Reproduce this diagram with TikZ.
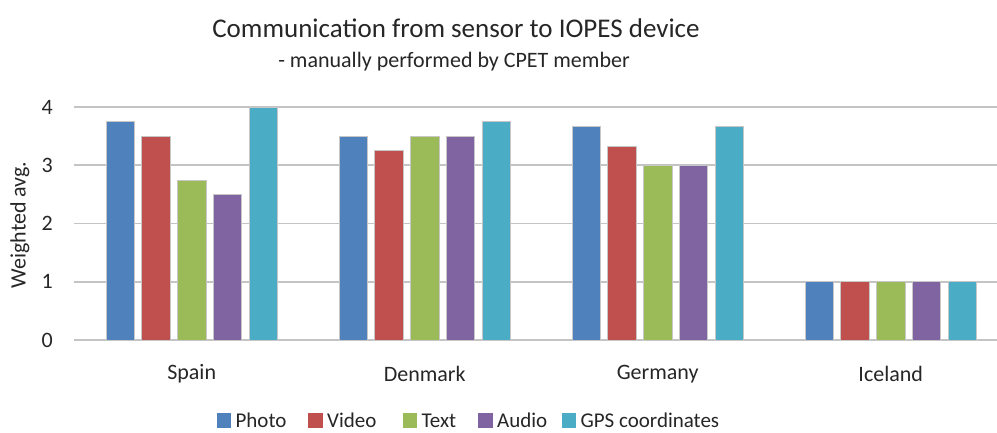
\documentclass[tikz,border=0pt]{standalone}
\usepackage{fontspec}
\setmainfont{Carlito}
\definecolor{cPhoto}{HTML}{4F81BD}
\definecolor{cVideo}{HTML}{C0504D}
\definecolor{cText}{HTML}{9BBB59}
\definecolor{cAudio}{HTML}{8064A2}
\definecolor{cGPS}{HTML}{4BACC6}
\definecolor{gridgray}{HTML}{C4C4C4}
\definecolor{ink}{HTML}{262626}
\newcommand{\fs}[1]{\fontsize{#1}{#1}\selectfont}
\begin{document}
\begin{tikzpicture}[x=1pt,y=-1pt,
  gridline/.style={draw=gridgray, line width=1.8pt},
  barbox/.style={draw=black!22, line width=0.6pt},
  ticklbl/.style={font=\fs{22}, text=ink, anchor=east, inner sep=0pt},
  catlbl/.style={font=\fs{22}, text=ink, inner sep=0pt},
  legsq/.style={minimum size=14.5pt, inner sep=0pt, draw=none},
  legtxt/.style={font=\fs{21}, text=ink, anchor=west, inner sep=0pt}]
\useasboundingbox (0,0) rectangle (997,432);

% titles
\node[font=\fs{27}, text=ink] (title) at (456,28) {Communication from sensor to IOPES device};
\node[font=\fs{22}, text=ink] (subtitle) at (454,62) {- manually performed by CPET member};

% value axis: gridlines and tick labels
\foreach \v in {0,...,4} {
  \draw[gridline] (74,340-58.25*\v) -- (997,340-58.25*\v);
  \node[ticklbl] (tick\v) at (53,340-58.25*\v) {\v};
}
\node[font=\fs{22}, text=ink, rotate=90] (ylabel) at (20,225) {Weighted avg.};

% bars: group / Photo / Video / Text / Audio / GPS
\foreach \g/\a/\b/\c/\d/\e in {0/3.75/3.5/2.75/2.5/4,
                               1/3.5/3.25/3.5/3.5/3.75,
                               2/3.667/3.333/3/3/3.667,
                               3/1/1/1/1/1} {
  \foreach \s/\val/\col in {0/\a/cPhoto, 1/\b/cVideo, 2/\c/cText, 3/\d/cAudio, 4/\e/cGPS} {
    \draw[barbox, fill=\col] (106+233*\g+35.75*\s,340) rectangle ++(28.3,-58.25*\val);
  }
}

% category labels
\foreach \g/\name in {0/Spain, 1/Denmark, 2/Germany, 3/Iceland} {
  \node[catlbl] (cat\g) at (191.7+233*\g,374) {\name};
}

% legend
\foreach \x/\col/\txt/\id in {216.5/cPhoto/Photo/p, 308/cVideo/Video/v, 402.5/cText/Text/t, 478/cAudio/Audio/a, 561.5/cGPS/GPS coordinates/g} {
  \node[legsq, fill=\col, anchor=west] (sq\id) at (\x,420.5) {};
  \node[legtxt] (lg\id) at ([xshift=4pt]sq\id.east) {\txt};
}
\end{tikzpicture}
\end{document}
